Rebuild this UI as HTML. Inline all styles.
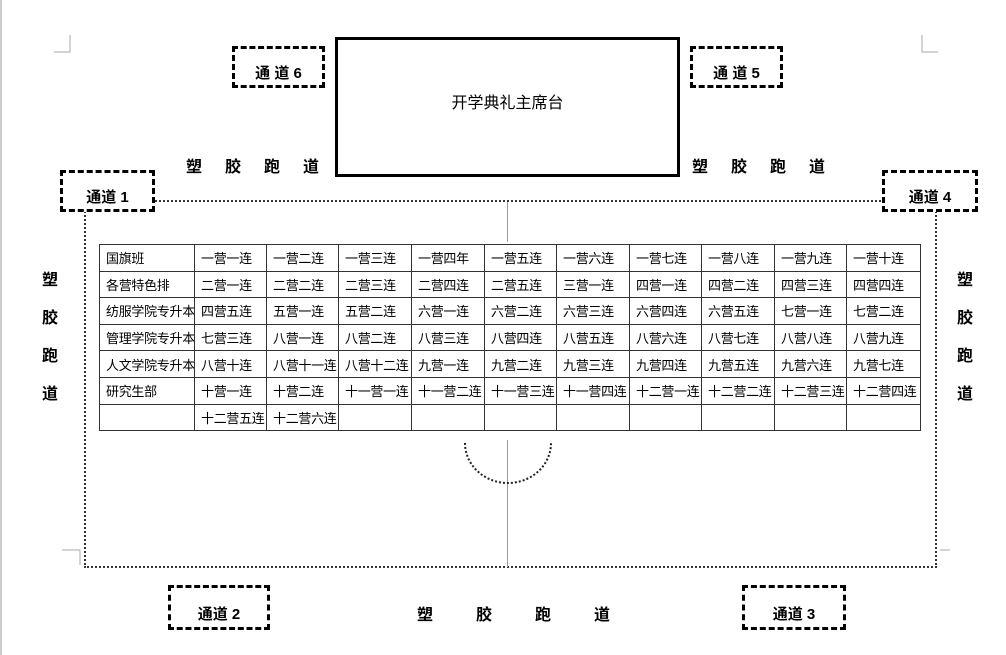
<!DOCTYPE html>
<html><head><meta charset="utf-8"><style>
body{margin:0;width:1006px;height:655px;background:#fff;position:relative;overflow:hidden;font-family:"Liberation Sans","Noto Sans CJK SC",sans-serif;}
.a{position:absolute;}
.ch{position:absolute;border:3px dashed #000;box-sizing:border-box;font-weight:bold;font-size:15px;text-align:center;background:#fff;}
.t{position:absolute;font-weight:bold;font-size:16px;}
table{position:absolute;left:99px;top:244px;width:821px;table-layout:fixed;border-collapse:collapse;font-size:13px;}
td{border:1.5px solid #333;height:26.6px;padding:0 0 0 6px;box-sizing:border-box;white-space:nowrap;overflow:hidden;letter-spacing:-0.3px}
</style></head><body>
<div class="a" style="left:0;top:0;width:2px;height:655px;background:#ccc"></div>
<div class="a" style="left:84px;top:200px;width:853px;height:368px;border:2px dotted #333;box-sizing:border-box"></div>
<div class="a" style="left:507px;top:202px;width:1px;height:40px;background:#999"></div>
<div class="a" style="left:507px;top:440px;width:1px;height:127px;background:#999"></div>
<svg class="a" style="left:0;top:0" width="1006" height="655"><path d="M465 443 A43 40 0 0 0 551 443" fill="none" stroke="#222" stroke-width="2" stroke-dasharray="2 2"/>
<path d="M70 35 V52 H54" fill="none" stroke="#aaa"/><path d="M922 35 V52 H938" fill="none" stroke="#aaa"/>
<path d="M62 550 H80 V565" fill="none" stroke="#aaa"/><path d="M940 550 H950" fill="none" stroke="#aaa"/></svg>
<div class="a" style="left:335px;top:37px;width:345px;height:140px;border:3px solid #000;box-sizing:border-box"></div>
<div class="a" style="left:335px;top:89px;width:345px;text-align:center;font-size:16px">开学典礼主席台</div>
<div class="ch" style="left:232px;top:46px;width:93px;height:42px;line-height:50px">通&nbsp;道 6</div>
<div class="ch" style="left:690px;top:46px;width:93px;height:42px;line-height:50px">通&nbsp;道 5</div>
<div class="ch" style="left:60px;top:170px;width:95px;height:42px;line-height:50px">通道 1</div>
<div class="ch" style="left:882px;top:170px;width:96px;height:42px;line-height:50px">通道 4</div>
<div class="ch" style="left:168px;top:585px;width:102px;height:45px;line-height:54px">通道 2</div>
<div class="ch" style="left:742px;top:585px;width:104px;height:45px;line-height:54px">通道 3</div>
<div class="t" style="left:186px;top:153px;letter-spacing:23px">塑胶跑道</div>
<div class="t" style="left:692px;top:153px;letter-spacing:23px">塑胶跑道</div>
<div class="t" style="left:417px;top:601px;letter-spacing:43px">塑胶跑道</div>
<div class="t" style="left:42px;top:262px;line-height:38px;width:20px">塑<br>胶<br>跑<br>道</div>
<div class="t" style="left:957px;top:262px;line-height:38px;width:20px">塑<br>胶<br>跑<br>道</div>
<table>
<colgroup><col style="width:95px"><col style="width:72px"><col style="width:72px"><col style="width:73px"><col style="width:73px"><col style="width:72px"><col style="width:73px"><col style="width:72px"><col style="width:73px"><col style="width:72px"><col style="width:74px"></colgroup>
<tr><td>国旗班</td><td>一营一连</td><td>一营二连</td><td>一营三连</td><td>一营四年</td><td>一营五连</td><td>一营六连</td><td>一营七连</td><td>一营八连</td><td>一营九连</td><td>一营十连</td></tr>
<tr><td>各营特色排</td><td>二营一连</td><td>二营二连</td><td>二营三连</td><td>二营四连</td><td>二营五连</td><td>三营一连</td><td>四营一连</td><td>四营二连</td><td>四营三连</td><td>四营四连</td></tr>
<tr><td>纺服学院专升本</td><td>四营五连</td><td>五营一连</td><td>五营二连</td><td>六营一连</td><td>六营二连</td><td>六营三连</td><td>六营四连</td><td>六营五连</td><td>七营一连</td><td>七营二连</td></tr>
<tr><td>管理学院专升本</td><td>七营三连</td><td>八营一连</td><td>八营二连</td><td>八营三连</td><td>八营四连</td><td>八营五连</td><td>八营六连</td><td>八营七连</td><td>八营八连</td><td>八营九连</td></tr>
<tr><td>人文学院专升本</td><td>八营十连</td><td>八营十一连</td><td>八营十二连</td><td>九营一连</td><td>九营二连</td><td>九营三连</td><td>九营四连</td><td>九营五连</td><td>九营六连</td><td>九营七连</td></tr>
<tr><td>研究生部</td><td>十营一连</td><td>十营二连</td><td>十一营一连</td><td>十一营二连</td><td>十一营三连</td><td>十一营四连</td><td>十二营一连</td><td>十二营二连</td><td>十二营三连</td><td>十二营四连</td></tr>
<tr><td></td><td>十二营五连</td><td>十二营六连</td><td></td><td></td><td></td><td></td><td></td><td></td><td></td><td></td></tr>
</table>
</body></html>
